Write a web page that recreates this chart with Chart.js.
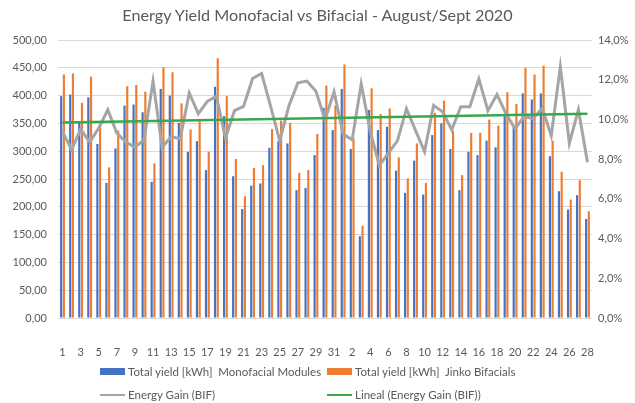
<!DOCTYPE html>
<html>
<head>
<meta charset="utf-8">
<script src="https://cdn.jsdelivr.net/npm/chart.js@4.4.1/dist/chart.umd.min.js"></script>
<style>
  body { margin: 0; background: #fff; }
  #wrap { position: relative; width: 635px; height: 403px; font-family: Lato, "Open Sans", sans-serif; color: #595959; }
  #title { position: absolute; left: 0; top: 5px; width: 635px; text-align: center; font-size: 16.2px; }
  .leg { position: absolute; font-size: 11.5px; white-space: nowrap; display: flex; align-items: center; }
  .leg i { display: inline-block; width: 25px; margin-right: 3px; }
</style>
</head>
<body>
<div id="wrap">
  <canvas id="chart" width="635" height="403"></canvas>
  <div id="title">Energy Yield Monofacial vs Bifacial - August/Sept 2020</div>
  <div class="leg" style="left:100px; top:365px"><i style="height:7px; background:#4472c4"></i>Total yield [kWh]&nbsp; Monofacial Modules</div>
  <div class="leg" style="left:327px; top:365px"><i style="height:7px; background:#ed7d31"></i>Total yield [kWh]&nbsp; Jinko Bifacials</div>
  <div class="leg" style="left:100px; top:388px"><i style="height:2px; background:#a5a5a5"></i>Energy Gain (BIF)</div>
  <div class="leg" style="left:327px; top:388px"><i style="height:2px; background:#3aa84a"></i>Lineal (Energy Gain (BIF))</div>
</div>
<script>
// days: August 1-31 then September 1-28
const augDays = [1,2,3,4,5,6,7,8,9,10,11,12,13,14,15,16,17,18,19,20,21,22,23,24,25,26,27,28,29,30,31];
const sepDays = [1,2,3,4,5,6,7,8,9,10,11,12,13,14,15,16,17,18,19,20,21,22,23,24,25,26,27,28];
const days = augDays.concat(sepDays);

// total yield kWh
const monofacial = [399,402,351,397,313,243,305,382,384,370, 245,412,400,351,299,318,266,416,363,255,
  196,238,242,306,318,314,230,234,293,378, 338,
  412,304,147,374,338,344,265,225,283, 222,329,350,304,230,299,293,319,307,363,
  345,404,393,404,291,228,195,221,178];
const bifacial = [438,440,387,434,348,271,337,417,419,407, 278,451,442,386,339,354,299,467,399,286,
  219,270,275,340,355,351,261,266,331,418, 382,
  456,323,166,413,367,377,289,251,314, 243,369,391,337,257,333,333,357,346,406,
  385,450,438,454,319,263,213,248,192];

// energy gain in %
const gain = [9.40,8.47,9.51,8.86,9.56,10.49,9.31,8.86,8.60,8.97, 11.93,8.59,9.14,9.02,11.33,10.29,10.91,11.17,9.06,10.44,
  10.66,12.06,12.31,10.64,8.92,10.66,11.84,11.93,11.42,9.99, 11.39,
  9.26,8.97,11.79,9.40,7.68,8.30,8.92,10.54,9.45, 8.38,10.71,10.38,9.48,10.64,10.64,12.04,10.44,11.25,10.29,
  9.53,10.15,10.04,10.58,9.18,12.65,8.80,10.49,7.84];

// trend line end points
const trendStart = 9.85;
const trendEnd = 10.28;
const trend = days.map((d, i) => i === 0 ? trendStart : (i === days.length - 1 ? trendEnd : null));

const tickColor = "#595959";
const tickFont = { family: "Lato, 'Open Sans', sans-serif", size: 11 };

new Chart(document.getElementById("chart"), {
  type: "bar",
  data: {
    labels: days,
    datasets: [
      {
        type: "line",
        label: "Lineal (Energy Gain (BIF))",
        data: trend,
        yAxisID: "y1",
        borderColor: "#3aa84a",
        borderWidth: 2.5,
        pointRadius: 0,
        spanGaps: true,
        order: 0,
      },
      {
        type: "line",
        label: "Energy Gain (BIF)",
        data: gain,
        yAxisID: "y1",
        borderColor: "#a5a5a5",
        borderWidth: 3,
        pointRadius: 0,
        tension: 0,
        order: 1,
      },
      {
        label: "Total yield [kWh]  Monofacial Modules",
        data: monofacial,
        backgroundColor: "#4472c4",
        yAxisID: "y",
        categoryPercentage: 0.6,
        barPercentage: 0.8,
        order: 2,
      },
      {
        label: "Total yield [kWh]  Jinko Bifacials",
        data: bifacial,
        backgroundColor: "#ed7d31",
        yAxisID: "y",
        categoryPercentage: 0.6,
        barPercentage: 0.8,
        order: 3,
      },
    ],
  },
  options: {
    responsive: false,
    animation: false,
    layout: { padding: { top: 40, bottom: 0, left: 0, right: 0 } },
    plugins: {
      legend: { display: false },
      title: { display: false },
      tooltip: { enabled: false },
    },
    scales: {
      x: {
        offset: true,
        grid: { display: false },
        border: { display: false },
        ticks: {
          autoSkip: false,
          maxRotation: 0,
          padding: 20,
          color: tickColor,
          font: tickFont,
          callback: function (val, idx) {
            return idx % 2 === 0 ? this.getLabelForValue(val) : "";
          },
        },
        afterFit: (scale) => { scale.height = 85; },
      },
      y: {
        position: "left",
        min: 0,
        max: 500,
        ticks: {
          stepSize: 50,
          padding: 11,
          color: tickColor,
          font: tickFont,
          callback: (v) => v.toFixed(2).replace(".", ","),
        },
        grid: { color: "#d9d9d9", drawTicks: false },
        border: { display: false },
        afterFit: (scale) => { scale.width = 58; },
      },
      y1: {
        position: "right",
        min: 0,
        max: 14,
        ticks: {
          stepSize: 2,
          padding: 6,
          color: tickColor,
          font: tickFont,
          callback: (v) => v.toFixed(1).replace(".", ",") + "%",
        },
        grid: { drawOnChartArea: false, drawTicks: false },
        border: { display: false },
        afterFit: (scale) => { scale.width = 43; },
      },
    },
  },
});
</script>
</body>
</html>
